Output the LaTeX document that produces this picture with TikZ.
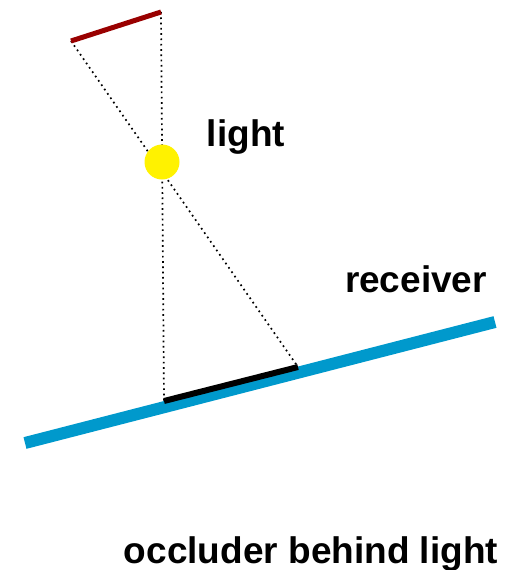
\documentclass[tikz,border=0pt]{standalone}
\usepackage{fontspec}
\setmainfont{Liberation Sans}
\definecolor{occred}{RGB}{153,0,0}
\definecolor{recblue}{RGB}{0,153,204}
\begin{document}
\begin{tikzpicture}[x=1pt, y=-1pt,
    lbl/.style={font=\fontsize{37}{40}\selectfont\bfseries, anchor=base, inner sep=0pt},
    ray/.style={line width=1.7pt, dash pattern=on 1.7pt off 3.6pt},
    lamp/.style={circle, fill=yellow, minimum size=35pt, inner sep=0pt}]
  \useasboundingbox (0,0) rectangle (505,570);
  % Ends of occluder, receiver and shadow
  \coordinate (occL) at (71,41);
  \coordinate (occR) at (161,12);
  \coordinate (recL) at (25,443);
  \coordinate (recR) at (495,322);
  \coordinate (shL) at (164,401);
  \coordinate (shR) at (298,367);
  % Rays from the occluder ends down to the receiver
  \draw[ray] (occR) -- (shL);
  \draw[ray] (occL) -- (shR);
  \node[lamp] (light) at (162,162) {};
  % Receiver and shadow on it
  \draw[line width=12pt, recblue] (recL) -- (recR);
  \draw[line width=6pt] (shL) -- (shR);
  % Occluder
  \draw[line width=5pt, occred] (occL) -- (occR);
  % Labels
  \node[lbl] (lightlbl) at (246,146) {light};
  \node[lbl] (reclbl) at (416,292) {receiver};
  \node[lbl] (title) at (311,563) {occluder behind light};
\end{tikzpicture}
\end{document}
